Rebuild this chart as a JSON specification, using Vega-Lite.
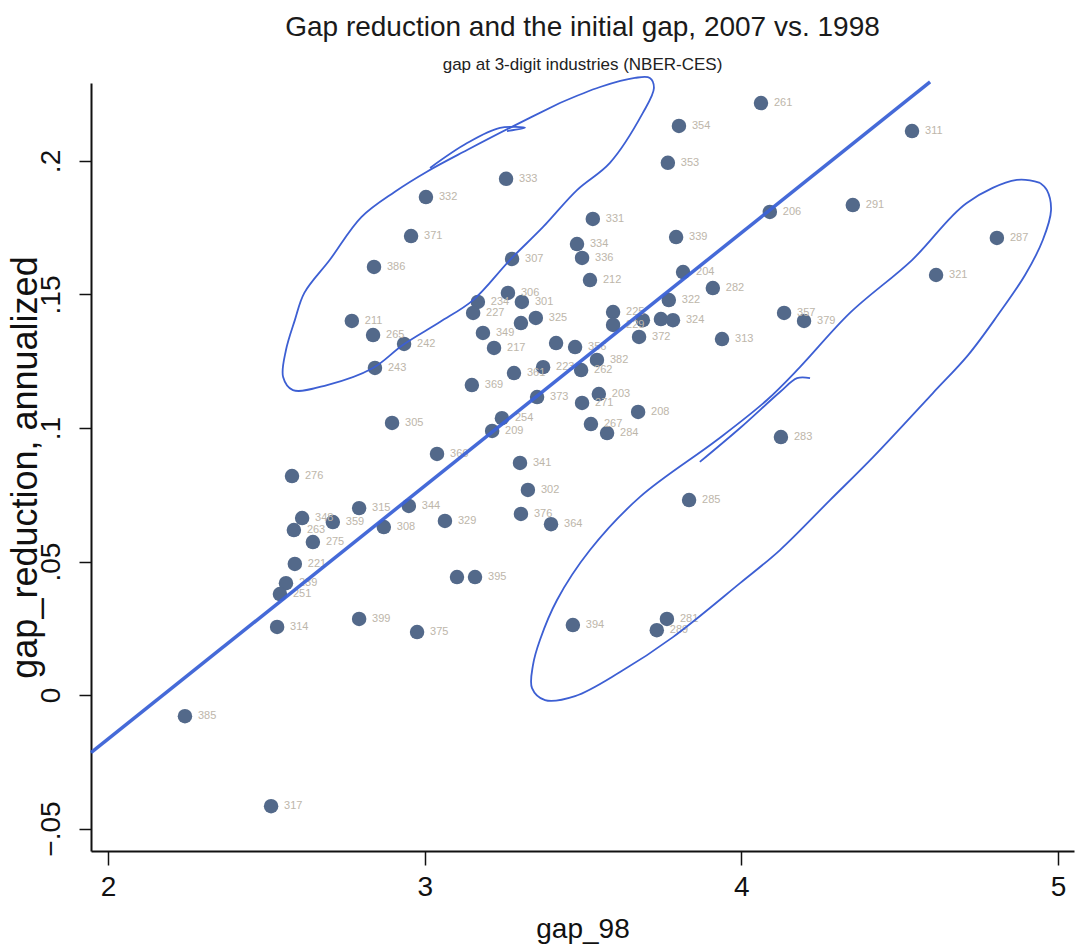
{
  "$schema": "https://vega.github.io/schema/vega-lite/v6.json",
  "autosize": "none",
  "width": 983,
  "height": 768,
  "padding": {"left": 91, "top": 83, "right": 2, "bottom": 100},
  "background": "white",
  "title": {
    "text": "Gap reduction and the initial gap, 2007 vs. 1998",
    "subtitle": "gap at 3-digit industries (NBER-CES)",
    "anchor": "middle",
    "frame": "group",
    "font": "Liberation Sans",
    "fontSize": 28,
    "fontWeight": "normal",
    "color": "#1a1a1a",
    "subtitleFont": "Liberation Sans",
    "subtitleFontSize": 17,
    "subtitleColor": "#222",
    "subtitlePadding": 15,
    "offset": 0
  },
  "datasets": {
    "points": [
      {"gap_98": 4.062, "gap_reduction": 0.2217, "ind": "261"},
      {"gap_98": 3.803, "gap_reduction": 0.2131, "ind": "354"},
      {"gap_98": 4.539, "gap_reduction": 0.2112, "ind": "311"},
      {"gap_98": 3.768, "gap_reduction": 0.1993, "ind": "353"},
      {"gap_98": 3.257, "gap_reduction": 0.1933, "ind": "333"},
      {"gap_98": 3.004, "gap_reduction": 0.1865, "ind": "332"},
      {"gap_98": 4.090, "gap_reduction": 0.1809, "ind": "206"},
      {"gap_98": 4.352, "gap_reduction": 0.1835, "ind": "291"},
      {"gap_98": 3.531, "gap_reduction": 0.1783, "ind": "331"},
      {"gap_98": 2.957, "gap_reduction": 0.1719, "ind": "371"},
      {"gap_98": 3.794, "gap_reduction": 0.1715, "ind": "339"},
      {"gap_98": 4.807, "gap_reduction": 0.1712, "ind": "287"},
      {"gap_98": 3.481, "gap_reduction": 0.1689, "ind": "334"},
      {"gap_98": 3.497, "gap_reduction": 0.1637, "ind": "336"},
      {"gap_98": 3.276, "gap_reduction": 0.1633, "ind": "307"},
      {"gap_98": 2.840, "gap_reduction": 0.1603, "ind": "386"},
      {"gap_98": 3.522, "gap_reduction": 0.1554, "ind": "212"},
      {"gap_98": 3.816, "gap_reduction": 0.1584, "ind": "204"},
      {"gap_98": 4.615, "gap_reduction": 0.1573, "ind": "321"},
      {"gap_98": 3.910, "gap_reduction": 0.1524, "ind": "282"},
      {"gap_98": 3.263, "gap_reduction": 0.1506, "ind": "306"},
      {"gap_98": 3.307, "gap_reduction": 0.1472, "ind": "301"},
      {"gap_98": 3.771, "gap_reduction": 0.1479, "ind": "322"},
      {"gap_98": 3.168, "gap_reduction": 0.1472, "ind": "234"},
      {"gap_98": 2.770, "gap_reduction": 0.1401, "ind": "211"},
      {"gap_98": 3.153, "gap_reduction": 0.1431, "ind": "227"},
      {"gap_98": 3.595, "gap_reduction": 0.1434, "ind": "225"},
      {"gap_98": 3.595, "gap_reduction": 0.1386, "ind": "229"},
      {"gap_98": 3.689, "gap_reduction": 0.1404, "ind": ""},
      {"gap_98": 3.746, "gap_reduction": 0.1408, "ind": ""},
      {"gap_98": 3.784, "gap_reduction": 0.1404, "ind": "324"},
      {"gap_98": 3.351, "gap_reduction": 0.1412, "ind": "325"},
      {"gap_98": 3.304, "gap_reduction": 0.1393, "ind": ""},
      {"gap_98": 2.837, "gap_reduction": 0.1348, "ind": "265"},
      {"gap_98": 3.184, "gap_reduction": 0.1356, "ind": "349"},
      {"gap_98": 3.677, "gap_reduction": 0.1341, "ind": "372"},
      {"gap_98": 4.135, "gap_reduction": 0.1431, "ind": "357"},
      {"gap_98": 4.198, "gap_reduction": 0.1401, "ind": "379"},
      {"gap_98": 3.939, "gap_reduction": 0.1333, "ind": "313"},
      {"gap_98": 2.935, "gap_reduction": 0.1315, "ind": "242"},
      {"gap_98": 3.219, "gap_reduction": 0.1300, "ind": "217"},
      {"gap_98": 3.415, "gap_reduction": 0.1318, "ind": ""},
      {"gap_98": 3.475, "gap_reduction": 0.1303, "ind": "356"},
      {"gap_98": 3.544, "gap_reduction": 0.1255, "ind": "382"},
      {"gap_98": 3.494, "gap_reduction": 0.1217, "ind": "262"},
      {"gap_98": 2.843, "gap_reduction": 0.1225, "ind": "243"},
      {"gap_98": 3.374, "gap_reduction": 0.1228, "ind": "223"},
      {"gap_98": 3.282, "gap_reduction": 0.1206, "ind": "361"},
      {"gap_98": 3.149, "gap_reduction": 0.1161, "ind": "369"},
      {"gap_98": 3.550, "gap_reduction": 0.1127, "ind": "203"},
      {"gap_98": 3.355, "gap_reduction": 0.1116, "ind": "373"},
      {"gap_98": 3.497, "gap_reduction": 0.1094, "ind": "271"},
      {"gap_98": 3.674, "gap_reduction": 0.1060, "ind": "208"},
      {"gap_98": 3.525, "gap_reduction": 0.1015, "ind": "267"},
      {"gap_98": 3.576, "gap_reduction": 0.0981, "ind": "284"},
      {"gap_98": 2.897, "gap_reduction": 0.1019, "ind": "305"},
      {"gap_98": 3.244, "gap_reduction": 0.1037, "ind": "254"},
      {"gap_98": 3.213, "gap_reduction": 0.0989, "ind": "209"},
      {"gap_98": 4.125, "gap_reduction": 0.0966, "ind": "283"},
      {"gap_98": 3.039, "gap_reduction": 0.0903, "ind": "366"},
      {"gap_98": 2.581, "gap_reduction": 0.0820, "ind": "276"},
      {"gap_98": 3.301, "gap_reduction": 0.0869, "ind": "341"},
      {"gap_98": 3.326, "gap_reduction": 0.0768, "ind": "302"},
      {"gap_98": 3.835, "gap_reduction": 0.0730, "ind": "285"},
      {"gap_98": 2.950, "gap_reduction": 0.0708, "ind": "344"},
      {"gap_98": 2.793, "gap_reduction": 0.0700, "ind": "315"},
      {"gap_98": 3.304, "gap_reduction": 0.0678, "ind": "376"},
      {"gap_98": 3.399, "gap_reduction": 0.0640, "ind": "364"},
      {"gap_98": 3.064, "gap_reduction": 0.0652, "ind": "329"},
      {"gap_98": 2.710, "gap_reduction": 0.0648, "ind": "359"},
      {"gap_98": 2.871, "gap_reduction": 0.0629, "ind": "308"},
      {"gap_98": 2.613, "gap_reduction": 0.0663, "ind": "348"},
      {"gap_98": 2.587, "gap_reduction": 0.0618, "ind": "263"},
      {"gap_98": 2.647, "gap_reduction": 0.0573, "ind": "275"},
      {"gap_98": 2.590, "gap_reduction": 0.0491, "ind": "221"},
      {"gap_98": 2.562, "gap_reduction": 0.0419, "ind": "239"},
      {"gap_98": 2.543, "gap_reduction": 0.0378, "ind": "251"},
      {"gap_98": 3.102, "gap_reduction": 0.0442, "ind": ""},
      {"gap_98": 3.159, "gap_reduction": 0.0442, "ind": "395"},
      {"gap_98": 2.534, "gap_reduction": 0.0255, "ind": "314"},
      {"gap_98": 2.793, "gap_reduction": 0.0285, "ind": "399"},
      {"gap_98": 2.976, "gap_reduction": 0.0236, "ind": "375"},
      {"gap_98": 3.468, "gap_reduction": 0.0262, "ind": "394"},
      {"gap_98": 3.765, "gap_reduction": 0.0285, "ind": "281"},
      {"gap_98": 3.733, "gap_reduction": 0.0243, "ind": "289"},
      {"gap_98": 2.243, "gap_reduction": -0.0079, "ind": "385"},
      {"gap_98": 2.515, "gap_reduction": -0.0416, "ind": "317"}
    ],
    "fit": [
      {"gap_98": 1.9463, "gap_reduction": -0.0216},
      {"gap_98": 4.596, "gap_reduction": 0.2296}
    ],
    "loops": [
      {"loop": "a", "ord": 0, "gap_98": 3.427, "gap_reduction": 0.2217},
      {"loop": "a", "ord": 1, "gap_98": 3.554, "gap_reduction": 0.2277},
      {"loop": "a", "ord": 2, "gap_98": 3.664, "gap_reduction": 0.2311},
      {"loop": "a", "ord": 3, "gap_98": 3.711, "gap_reduction": 0.2311},
      {"loop": "a", "ord": 4, "gap_98": 3.724, "gap_reduction": 0.2273},
      {"loop": "a", "ord": 5, "gap_98": 3.689, "gap_reduction": 0.2180},
      {"loop": "a", "ord": 6, "gap_98": 3.585, "gap_reduction": 0.1993},
      {"loop": "a", "ord": 7, "gap_98": 3.481, "gap_reduction": 0.1891},
      {"loop": "a", "ord": 8, "gap_98": 3.374, "gap_reduction": 0.1753},
      {"loop": "a", "ord": 9, "gap_98": 3.269, "gap_reduction": 0.1629},
      {"loop": "a", "ord": 10, "gap_98": 3.153, "gap_reduction": 0.1479},
      {"loop": "a", "ord": 11, "gap_98": 3.048, "gap_reduction": 0.1397},
      {"loop": "a", "ord": 12, "gap_98": 2.931, "gap_reduction": 0.1311},
      {"loop": "a", "ord": 13, "gap_98": 2.837, "gap_reduction": 0.1225},
      {"loop": "a", "ord": 14, "gap_98": 2.692, "gap_reduction": 0.1161},
      {"loop": "a", "ord": 15, "gap_98": 2.584, "gap_reduction": 0.1142},
      {"loop": "a", "ord": 16, "gap_98": 2.553, "gap_reduction": 0.1191},
      {"loop": "a", "ord": 17, "gap_98": 2.562, "gap_reduction": 0.1292},
      {"loop": "a", "ord": 18, "gap_98": 2.590, "gap_reduction": 0.1404},
      {"loop": "a", "ord": 19, "gap_98": 2.620, "gap_reduction": 0.1506},
      {"loop": "a", "ord": 20, "gap_98": 2.700, "gap_reduction": 0.1629},
      {"loop": "a", "ord": 21, "gap_98": 2.800, "gap_reduction": 0.1790},
      {"loop": "a", "ord": 22, "gap_98": 2.906, "gap_reduction": 0.1885},
      {"loop": "a", "ord": 23, "gap_98": 3.007, "gap_reduction": 0.1960},
      {"loop": "a", "ord": 24, "gap_98": 3.134, "gap_reduction": 0.2041},
      {"loop": "a", "ord": 25, "gap_98": 3.269, "gap_reduction": 0.2124},
      {"loop": "a", "ord": 26, "gap_98": 3.427, "gap_reduction": 0.2217},
      {"loop": "b", "ord": 0, "gap_98": 3.017, "gap_reduction": 0.1974},
      {"loop": "b", "ord": 1, "gap_98": 3.134, "gap_reduction": 0.2067},
      {"loop": "b", "ord": 2, "gap_98": 3.238, "gap_reduction": 0.2124},
      {"loop": "b", "ord": 3, "gap_98": 3.317, "gap_reduction": 0.2124},
      {"loop": "b", "ord": 4, "gap_98": 3.260, "gap_reduction": 0.2112},
      {"loop": "c", "ord": 0, "gap_98": 4.943, "gap_reduction": 0.1918},
      {"loop": "c", "ord": 1, "gap_98": 4.870, "gap_reduction": 0.1929},
      {"loop": "c", "ord": 2, "gap_98": 4.712, "gap_reduction": 0.1843},
      {"loop": "c", "ord": 3, "gap_98": 4.539, "gap_reduction": 0.1629},
      {"loop": "c", "ord": 4, "gap_98": 4.343, "gap_reduction": 0.1431},
      {"loop": "c", "ord": 5, "gap_98": 4.185, "gap_reduction": 0.1228},
      {"loop": "c", "ord": 6, "gap_98": 4.081, "gap_reduction": 0.1105},
      {"loop": "c", "ord": 7, "gap_98": 3.923, "gap_reduction": 0.0955},
      {"loop": "c", "ord": 8, "gap_98": 3.680, "gap_reduction": 0.0742},
      {"loop": "c", "ord": 9, "gap_98": 3.522, "gap_reduction": 0.0543},
      {"loop": "c", "ord": 10, "gap_98": 3.418, "gap_reduction": 0.0356},
      {"loop": "c", "ord": 11, "gap_98": 3.364, "gap_reduction": 0.0206},
      {"loop": "c", "ord": 12, "gap_98": 3.342, "gap_reduction": 0.0112},
      {"loop": "c", "ord": 13, "gap_98": 3.339, "gap_reduction": 0.0026},
      {"loop": "c", "ord": 14, "gap_98": 3.380, "gap_reduction": -0.0019},
      {"loop": "c", "ord": 15, "gap_98": 3.475, "gap_reduction": -0.0004},
      {"loop": "c", "ord": 16, "gap_98": 3.617, "gap_reduction": 0.0086},
      {"loop": "c", "ord": 17, "gap_98": 3.784, "gap_reduction": 0.0217},
      {"loop": "c", "ord": 18, "gap_98": 3.996, "gap_reduction": 0.0419},
      {"loop": "c", "ord": 19, "gap_98": 4.122, "gap_reduction": 0.0543},
      {"loop": "c", "ord": 20, "gap_98": 4.280, "gap_reduction": 0.0730},
      {"loop": "c", "ord": 21, "gap_98": 4.416, "gap_reduction": 0.0891},
      {"loop": "c", "ord": 22, "gap_98": 4.605, "gap_reduction": 0.1131},
      {"loop": "c", "ord": 23, "gap_98": 4.716, "gap_reduction": 0.1273},
      {"loop": "c", "ord": 24, "gap_98": 4.810, "gap_reduction": 0.1423},
      {"loop": "c", "ord": 25, "gap_98": 4.896, "gap_reduction": 0.1573},
      {"loop": "c", "ord": 26, "gap_98": 4.952, "gap_reduction": 0.1704},
      {"loop": "c", "ord": 27, "gap_98": 4.978, "gap_reduction": 0.1816},
      {"loop": "c", "ord": 28, "gap_98": 4.965, "gap_reduction": 0.1891},
      {"loop": "c", "ord": 29, "gap_98": 4.943, "gap_reduction": 0.1918},
      {"loop": "d", "ord": 0, "gap_98": 3.869, "gap_reduction": 0.0873},
      {"loop": "d", "ord": 1, "gap_98": 3.996, "gap_reduction": 0.1000},
      {"loop": "d", "ord": 2, "gap_98": 4.122, "gap_reduction": 0.1135},
      {"loop": "d", "ord": 3, "gap_98": 4.176, "gap_reduction": 0.1187},
      {"loop": "d", "ord": 4, "gap_98": 4.217, "gap_reduction": 0.1187}
    ]
  },
  "encoding": {
    "x": {
      "field": "gap_98", "type": "quantitative",
      "scale": {"domain": [1.9463, 5.0505], "nice": false, "zero": false},
      "axis": {
        "title": "gap_98", "values": [2, 3, 4, 5], "format": "d",
        "labelFontSize": 28, "titleFontSize": 28, "tickSize": 14,
        "labelPadding": 8, "titlePadding": 14, "domainWidth": 2, "tickWidth": 1.5
      }
    },
    "y": {
      "field": "gap_reduction", "type": "quantitative",
      "scale": {"domain": [-0.0584, 0.2292], "nice": false, "zero": false},
      "axis": {
        "title": "gap_reduction, annualized",
        "values": [-0.05, 0, 0.05, 0.1, 0.15, 0.2],
        "labelExpr": "datum.value == 0 ? '0' : replace(format(datum.value, '.2~f'), '0.', '.')",
        "labelAngle": -90, "labelAlign": "center", "labelBaseline": "bottom",
        "labelFontSize": 28, "titleFontSize": 36, "tickSize": 12,
        "labelPadding": 14,
        "titleX": -55, "titleY": 384, "titleAngle": -90, "titleAlign": "center", "titleBaseline": "alphabetic",
        "domainWidth": 2, "tickWidth": 1.5
      }
    }
  },
  "layer": [
    {
      "data": {"name": "points"},
      "mark": {"type": "circle", "size": 210, "color": "#53698a", "opacity": 1}
    },
    {
      "data": {"name": "points"},
      "mark": {"type": "text", "align": "left", "baseline": "middle", "dx": 13, "fontSize": 11, "font": "Liberation Sans", "color": "#bdb6aa"},
      "encoding": {"text": {"field": "ind", "type": "nominal"}}
    },
    {
      "data": {"name": "fit"},
      "mark": {"type": "line", "color": "#3b62d6", "strokeWidth": 3.5, "opacity": 0.95},
      "encoding": {}
    },
    {
      "data": {"name": "loops"},
      "mark": {"type": "line", "color": "#3d5fd3", "strokeWidth": 1.8, "interpolate": "catmull-rom"},
      "encoding": {
        "detail": {"field": "loop", "type": "nominal"},
        "order": {"field": "ord", "type": "quantitative"}
      }
    }
  ],
  "config": {
    "view": {"stroke": null},
    "axis": {
      "grid": false,
      "domainColor": "#111",
      "tickColor": "#111",
      "labelColor": "#111",
      "titleColor": "#111",
      "labelFont": "Liberation Sans",
      "titleFont": "Liberation Sans",
      "titleFontWeight": "normal"
    }
  }
}
